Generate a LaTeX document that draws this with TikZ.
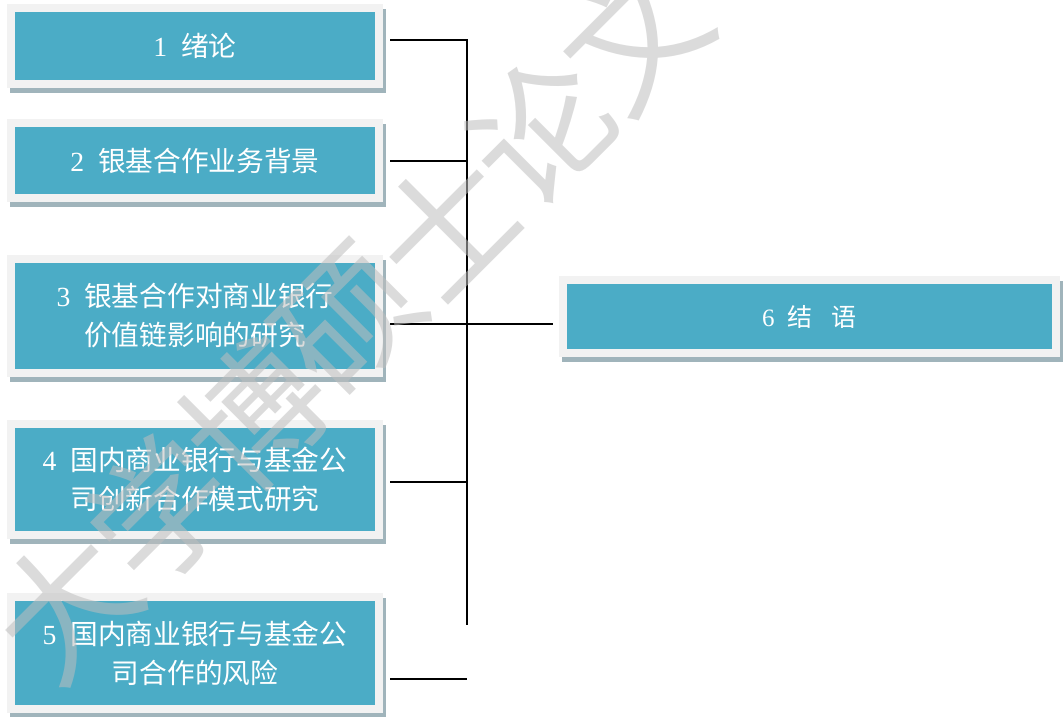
\documentclass[tikz,border=0pt]{standalone}
\usepackage{fontspec}
\setmainfont{Liberation Serif}
\newfontfamily\cjk{Noto Sans CJK SC}
\usetikzlibrary{backgrounds}
\definecolor{boxteal}{HTML}{4BACC6}
\definecolor{boxframe}{HTML}{F2F2F2}
\definecolor{boxshadow}{HTML}{A0B4BB}
\definecolor{wmgray}{HTML}{BEBEBE}
\tikzset{
  chap/.style={fill=boxteal, draw=boxframe, line width=8pt, text=white,
    align=center, inner sep=0pt, outer sep=0pt, minimum width=368pt,
    font=\fontsize{27.7}{39}\selectfont},
  conn/.style={draw=black, line width=1.6pt},
  wmchar/.style={rotate=45, text=wmgray, text opacity=0.55, inner sep=0pt,
    font=\cjk\fontsize{138}{138}\selectfont},
}
\newcommand{\zh}[1]{{\cjk #1}}
\begin{document}
\begin{tikzpicture}[x=1pt,y=-1pt]
\useasboundingbox (0,0) rectangle (1064,716);
% chapter boxes
\node[chap, minimum height=76pt] (b1) at (195,46) {1\hspace{0.5em}\zh{绪论}};
\node[chap, minimum height=75pt] (b2) at (195,160.5) {2\hspace{0.5em}\zh{银基合作业务背景}};
\node[chap, minimum height=114pt] (b3) at (195,316) {3\hspace{0.5em}\zh{银基合作对商业银行}\\\zh{价值链影响的研究}};
\node[chap, minimum height=111pt] (b4) at (195,479) {4\hspace{0.5em}\zh{国内商业银行与基金公}\\\zh{司创新合作模式研究}};
\node[chap, minimum height=112pt] (b5) at (195,653) {5\hspace{0.5em}\zh{国内商业银行与基金公}\\\zh{司合作的风险}};
\node[chap, minimum width=493pt, minimum height=73pt, font=\fontsize{25}{30}\selectfont] (b6) at (809.5,316.5) {6\hspace{0.5em}\zh{结}\hspace{0.8em}\zh{语}};
% shadows
\begin{scope}[on background layer]
\foreach \b in {b1,b2,b3,b4,b5,b6}
  \fill[boxshadow] ([xshift=-1pt,yshift=-1pt]\b.north west) rectangle ([xshift=7pt,yshift=-9pt]\b.south east);
\end{scope}
% connectors
\coordinate (bus) at (467,0);
\coordinate (busend) at (467,625);
\coordinate (j1) at ([xshift=11pt,yshift=6pt]b1.east);
\coordinate (j2) at ([xshift=11pt,yshift=-0.5pt]b2.east);
\coordinate (j3) at ([xshift=11pt,yshift=-8pt]b3.east);
\coordinate (j4) at ([xshift=11pt,yshift=-3pt]b4.east);
\coordinate (j5) at ([xshift=11pt,yshift=-26pt]b5.east);
\draw[conn] (j1) -- (j1 -| bus) -- (busend);
\draw[conn] (j2) -- (j2 -| bus);
\draw[conn] (j3) -- (j3 -| bus);
\draw[conn] (j4) -- (j4 -| bus);
\draw[conn] (j5) -- (j5 -| bus);
\draw[conn] (j3 -| bus) -- ([xshift=-10pt,yshift=-7.5pt]b6.west);
% watermark
\node[wmchar] (w1) at (65,605) {大};
\node[wmchar] (w2) at (160,510) {学};
\node[wmchar] (w3) at (255,415) {博};
\node[wmchar] (w4) at (350,320) {硕};
\node[wmchar] (w5) at (445,225) {士};
\node[wmchar] (w6) at (540,130) {论};
\node[wmchar] (w7) at (635,35) {文};
\end{tikzpicture}
\end{document}
